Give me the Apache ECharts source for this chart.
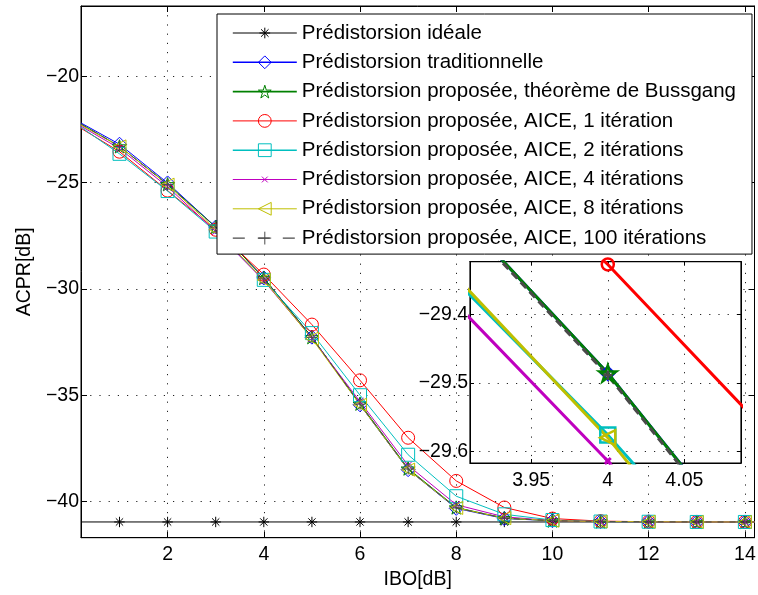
<!DOCTYPE html>
<html><head><meta charset="utf-8">
<script src="https://cdn.jsdelivr.net/npm/echarts@6/dist/echarts.min.js"></script>
<style>html,body{margin:0;padding:0;background:#fff}#c{width:758px;height:595px}</style>
</head><body><div id="c"></div>
<script>
// ---- data ----
const IBO = [0.2, 1, 2, 3, 4, 5, 6, 7, 8, 9, 10, 11, 12, 13, 14, 14.2];
const ideal       = [-40.96,-40.96,-40.96,-40.96,-40.96,-40.96,-40.96,-40.96,-40.96,-40.96,-40.96,-40.96,-40.96,-40.96,-40.96,-40.96];
const traditional = [-22.2,-23.2,-25.02,-27.09,-29.486,-32.27,-35.45,-38.5,-40.32,-40.8,-40.9,-40.94,-40.95,-40.96,-40.96,-40.96];
const bussgang    = [-22.25,-23.3,-25.08,-27.089,-29.486,-32.273,-35.4,-38.45,-40.28,-40.78,-40.9,-40.94,-40.95,-40.96,-40.96,-40.96];
const aice1       = [-22.45,-23.55,-25.38,-27.22,-29.327,-31.68,-34.3,-37.0,-39.03,-40.28,-40.8,-40.92,-40.95,-40.96,-40.96,-40.96];
const aice2       = [-22.4,-23.65,-25.4,-27.306,-29.576,-32.08,-35.0,-37.8,-39.75,-40.6,-40.87,-40.94,-40.95,-40.96,-40.96,-40.96];
const aice4       = [-22.35,-23.4,-25.2,-27.3,-29.614,-32.32,-35.3,-38.3,-40.15,-40.72,-40.9,-40.94,-40.95,-40.96,-40.96,-40.96];
const aice8       = [-22.3,-23.3,-25.1,-27.21,-29.58,-32.34,-35.45,-38.5,-40.3,-40.78,-40.9,-40.94,-40.95,-40.96,-40.96,-40.96];
const aice100     = [-22.25,-23.3,-25.1,-27.095,-29.489,-32.28,-35.42,-38.47,-40.3,-40.78,-40.9,-40.94,-40.95,-40.96,-40.96,-40.96];

const seriesNames = [
  'Prédistorsion idéale',
  'Prédistorsion traditionnelle',
  'Prédistorsion proposée, théorème de Bussgang',
  'Prédistorsion proposée, AICE, 1 itération',
  'Prédistorsion proposée, AICE, 2 itérations',
  'Prédistorsion proposée, AICE, 4 itérations',
  'Prédistorsion proposée, AICE, 8 itérations',
  'Prédistorsion proposée, AICE, 100 itérations'
];
const seriesValues = [ideal, traditional, bussgang, aice1, aice2, aice4, aice8, aice100];

const xTicks = [2, 4, 6, 8, 10, 12, 14];
const yTicks = [-40, -35, -30, -25, -20];
const insetXTicks = [3.95, 4, 4.05];
const insetYTicks = [-29.6, -29.5, -29.4];

// ---- styles ----
const FONT = '"Liberation Sans", Arial, Helvetica, sans-serif';
const colors = ['#000000', '#0000ff', '#008000', '#ff0000', '#00bfbf', '#bf00bf', '#bfbf00', '#4a4a4a'];
// zero-length corner segments pad the bounding box so the visible glyph is smaller
const SYM = {
  asterisk: 'path://M0,0L0,0M12,12L12,12M6,1L6,11M1,6L11,6M2.5,2.5L9.5,9.5M2.5,9.5L9.5,2.5',
  star: 'path://M5,0L6.117,3.463L9.755,3.455L6.807,5.587L7.939,9.045L5,6.9L2.061,9.045L3.193,5.587L0.245,3.455L3.883,3.463Z',
  tri: 'path://M0,5L10,0L10,10Z',
  cross: 'path://M0,0L0,0M20,20L20,20M5.5,5.5L14.5,14.5M5.5,14.5L14.5,5.5',
  plus: 'path://M5,0L5,10M0,5L10,5'
};
const symbols = [SYM.asterisk, 'diamond', SYM.star, 'circle', 'rect', SYM.cross, SYM.tri, SYM.plus];
const mainSizes = [12.5, 14, 14, 13, 13, 16, 13, 11];
const insetSizes = [12, 13, 17, 12, 15, 13, 15, 9];
const legendLineWidths = [1, 1.6, 1.6, 1, 1.6, 1.2, 1, 1.2];

const minus = v => (v < 0 ? '\u2212' : '') + String(Math.abs(v));

function makeSeries(i, inset) {
  const size = inset ? insetSizes[i] : mainSizes[i];
  const w = inset ? 3 : 1;
  return {
    type: 'line',
    name: seriesNames[i],
    xAxisIndex: inset ? 2 : 0,
    yAxisIndex: inset ? 2 : 0,
    data: IBO.map((x, k) => [x, seriesValues[i][k]]),
    symbol: symbols[i],
    symbolKeepAspect: true,
    symbolSize: v => (Number.isInteger(v[0]) ? size : 0),
    showSymbol: true,
    showAllSymbol: true,
    clip: true,
    z: inset ? 12 : 2,
    lineStyle: { color: colors[i], width: w, type: i === 7 ? (inset ? [8, 5] : [6, 6]) : 'solid' },
    itemStyle: { color: 'transparent', borderColor: colors[i], borderWidth: inset ? (i === 5 ? 3 : 2.5) : 1 },
    emphasis: { disabled: true },
    silent: true
  };
}

const series = [];
for (let i = 0; i < 8; i++) series.push(makeSeries(i, false));
for (let i = 1; i < 8; i++) series.push(makeSeries(i, true));

const labelStyle = { fontFamily: FONT, fontSize: 19.5, color: '#000' };
const gridLine = { show: true, lineStyle: { color: '#222', width: 1, type: [1.2, 8] } };

function axisCommon(min, max, ticks, opts) {
  return Object.assign({
    type: 'value', min: min, max: max,
    axisLine: { show: true, onZero: false, lineStyle: { color: '#000', width: 1 } },
    axisTick: { show: true, inside: true, length: 6, customValues: ticks, lineStyle: { color: '#000', width: 1 } },
    axisLabel: { show: false, customValues: ticks },
    splitLine: { show: false }
  }, opts);
}

const option = {
  animation: false,
  backgroundColor: '#fff',
  textStyle: { fontFamily: FONT },
  grid: [
    { left: 81, top: 6, width: 673.5, height: 531.7, show: true, backgroundColor: '#fff', borderColor: '#000', borderWidth: 1, containLabel: false, outerBoundsMode: 'none', z: 0 },
    { left: 470, top: 261.7, width: 271, height: 201.3, show: true, backgroundColor: '#fff', borderColor: '#000', borderWidth: 1.2, containLabel: false, outerBoundsMode: 'none', z: 10 }
  ],
  xAxis: [
    axisCommon(0.2, 14.2, xTicks, {
      gridIndex: 0, position: 'bottom',
      axisLabel: { show: true, customValues: xTicks, margin: 7, ...labelStyle, formatter: minus },
      splitLine: gridLine,
      name: 'IBO[dB]', nameLocation: 'middle', nameGap: 28, nameTextStyle: labelStyle
    }),
    axisCommon(0.2, 14.2, xTicks, { gridIndex: 0, position: 'top' }),
    axisCommon(3.91, 4.087, insetXTicks, {
      gridIndex: 1, position: 'bottom', z: 11,
      axisTick: { show: true, inside: true, length: 4, customValues: insetXTicks, lineStyle: { color: '#000' } },
      axisLabel: { show: true, customValues: insetXTicks, margin: 8, ...labelStyle, formatter: v => String(v) },
      splitLine: gridLine
    }),
    axisCommon(3.91, 4.087, insetXTicks, {
      gridIndex: 1, position: 'top', z: 11,
      axisTick: { show: true, inside: true, length: 4, customValues: insetXTicks, lineStyle: { color: '#000' } }
    })
  ],
  yAxis: [
    axisCommon(-41.7, -16.7, yTicks, {
      gridIndex: 0, position: 'left',
      axisLabel: { show: true, customValues: yTicks, margin: 2, ...labelStyle, formatter: minus },
      splitLine: gridLine,
      name: 'ACPR[dB]', nameLocation: 'middle', nameGap: 46, nameRotate: 90, nameTextStyle: labelStyle
    }),
    axisCommon(-41.7, -16.7, yTicks, { gridIndex: 0, position: 'right' }),
    axisCommon(-29.617, -29.323, insetYTicks, {
      gridIndex: 1, position: 'left', z: 11,
      axisTick: { show: true, inside: true, length: 4, customValues: insetYTicks, lineStyle: { color: '#000' } },
      axisLabel: { show: true, customValues: insetYTicks, margin: 2, ...labelStyle, formatter: v => '\u2212' + Math.abs(v).toFixed(1) },
      splitLine: gridLine
    }),
    axisCommon(-29.617, -29.323, insetYTicks, {
      gridIndex: 1, position: 'right', z: 11,
      axisTick: { show: true, inside: true, length: 4, customValues: insetYTicks, lineStyle: { color: '#000' } }
    })
  ],
  legend: {
    show: true, orient: 'vertical', left: 217, top: 14,
    padding: [8, 16, 5, 15], itemGap: 7.3, itemWidth: 64, itemHeight: 16,
    backgroundColor: '#fff', borderColor: '#000', borderWidth: 1, borderRadius: 0,
    selectedMode: false, z: 20,
    textStyle: { fontFamily: FONT, fontSize: 20.5, color: '#000', lineHeight: 22 },
    data: seriesNames.map((n, i) => ({
      name: n,
      itemStyle: { color: 'transparent', borderColor: colors[i], borderWidth: 1 },
      lineStyle: { color: colors[i], width: legendLineWidths[i], type: i === 7 ? [12, 13] : 'solid' }
    }))
  },
  series: series
};

const chart = echarts.init(document.getElementById('c'), null, { renderer: 'canvas' });
chart.setOption(option);
</script>
</body></html>
